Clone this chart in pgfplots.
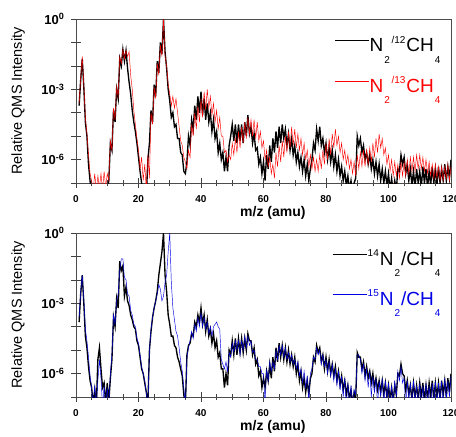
\documentclass[border=0pt]{standalone}
\usepackage{fontspec}
\setmainfont{Liberation Sans}
\usepackage{pgfplots}
\usepackage{pgfplotstable}
\pgfplotsset{compat=1.18}

% legend sub/superscripts, set low and high as in the original
\newcommand{\lsb}[1]{\kern1pt\raisebox{-0.6em}{\fontsize{10}{10}\selectfont #1}\kern1pt}
\newcommand{\lsp}[1]{\kern0.5pt\raisebox{0.47em}{\fontsize{10}{10}\selectfont #1}\kern1pt}

% log10 of the relative QMS intensity (m/z in amu)
% top panel, N2/12CH4
\pgfplotstableread[row sep=\\]{m lg\\
1 -3.7\\ 1.5 -2.6\\ 2 -1.7\\ 2.5 -2.9\\ 3 -4.4\\ 3.5 -5.0\\ 4 -6.2\\ 4.5 -6.9\\ 5 -7.6\\ 5.5 -7.3\\
6 -7.6\\ 6.5 -7.8\\ 7 -7.6\\ 7.5 -7.8\\ 8 -7.6\\ 8.5 -7.8\\ 9 -7.6\\ 9.5 -7.8\\ 10 -7.4\\ 10.5 -6.9\\
11 -5.3\\ 11.5 -5.6\\ 12 -3.9\\ 12.5 -4.4\\ 13 -3.0\\ 13.5 -3.4\\ 14 -1.7\\ 14.5 -2.0\\ 15 -1.3\\ 15.5 -1.8\\
16 -1.35\\ 16.5 -2.1\\ 17 -2.7\\ 17.5 -3.2\\ 18 -3.9\\ 18.5 -4.4\\ 19 -4.8\\ 19.5 -5.3\\ 20 -5.9\\ 20.5 -6.5\\
21 -7.0\\ 21.5 -7.6\\ 22 -7.6\\ 22.5 -7.6\\ 23 -6.0\\ 23.5 -5.3\\ 24 -3.9\\ 24.5 -4.4\\ 25 -2.8\\ 25.5 -3.3\\
26 -1.8\\ 26.5 -2.3\\ 27 -1.0\\ 27.5 -1.5\\ 28 0\\ 28.5 -1.4\\ 29 -2.1\\ 29.5 -3.0\\ 30 -3.5\\ 30.5 -4.2\\
31 -4.0\\ 31.5 -4.6\\ 32 -4.5\\ 32.5 -5.1\\ 33 -5.1\\ 33.5 -5.7\\ 34 -5.8\\ 34.5 -6.5\\ 35 -6.6\\ 35.5 -6.1\\
36 -5.0\\ 36.5 -5.4\\ 37 -4.3\\ 37.5 -4.7\\ 38 -3.7\\ 38.5 -4.3\\ 39 -3.3\\ 39.5 -4.0\\ 40 -3.1\\ 40.5 -4.1\\
41 -3.4\\ 41.5 -4.3\\ 42 -3.6\\ 42.5 -4.4\\ 43 -4.0\\ 43.5 -4.8\\ 44 -4.3\\ 44.5 -5.1\\ 45 -4.8\\ 45.5 -5.7\\
46 -5.3\\ 46.5 -6.0\\ 47 -5.7\\ 47.5 -6.5\\ 48 -5.9\\ 48.5 -6.5\\ 49 -5.4\\ 49.5 -5.0\\ 50 -4.5\\ 50.5 -5.2\\
51 -4.5\\ 51.5 -5.3\\ 52 -4.5\\ 52.5 -5.2\\ 53 -4.5\\ 53.5 -5.3\\ 54 -4.4\\ 54.5 -5.0\\ 55 -4.1\\ 55.5 -4.9\\
56 -4.6\\ 56.5 -5.3\\ 57 -4.9\\ 57.5 -5.6\\ 58 -5.5\\ 58.5 -6.2\\ 59 -5.9\\ 59.5 -6.6\\ 60 -6.1\\ 60.5 -6.9\\
61 -5.8\\ 61.5 -6.4\\ 62 -5.4\\ 62.5 -6.1\\ 63 -5.1\\ 63.5 -5.7\\ 64 -4.8\\ 64.5 -5.5\\ 65 -4.6\\ 65.5 -5.3\\
66 -4.5\\ 66.5 -5.1\\ 67 -4.7\\ 67.5 -5.4\\ 68 -4.9\\ 68.5 -5.6\\ 69 -5.1\\ 69.5 -5.8\\ 70 -5.4\\ 70.5 -6.1\\
71 -5.7\\ 71.5 -6.3\\ 72 -5.9\\ 72.5 -6.5\\ 73 -6.0\\ 73.5 -6.7\\ 74 -6.2\\ 74.5 -6.9\\ 75 -6.4\\ 75.5 -6.0\\
76 -5.3\\ 76.5 -5.6\\ 77 -4.7\\ 77.5 -5.2\\ 78 -4.6\\ 78.5 -5.4\\ 79 -5.1\\ 79.5 -5.7\\ 80 -5.3\\ 80.5 -6.0\\
81 -5.5\\ 81.5 -6.1\\ 82 -5.6\\ 82.5 -6.3\\ 83 -5.8\\ 83.5 -6.5\\ 84 -6.0\\ 84.5 -6.7\\ 85 -6.3\\ 85.5 -6.9\\
86 -6.5\\ 86.5 -7.1\\ 87 -6.7\\ 87.5 -7.3\\ 88 -6.9\\ 88.5 -7.5\\ 89 -7.0\\ 89.5 -6.8\\ 90 -5.0\\ 90.5 -5.4\\
91 -5.1\\ 91.5 -5.7\\ 92 -5.4\\ 92.5 -6.0\\ 93 -5.7\\ 93.5 -6.2\\ 94 -5.8\\ 94.5 -6.4\\ 95 -6.0\\ 95.5 -6.6\\
96 -6.1\\ 96.5 -6.7\\ 97 -6.2\\ 97.5 -6.9\\ 98 -6.4\\ 98.5 -7.0\\ 99 -6.5\\ 99.5 -7.1\\ 100 -6.6\\ 100.5 -7.3\\
101 -6.8\\ 101.5 -7.4\\ 102 -6.9\\ 102.5 -7.3\\ 103 -6.4\\ 103.5 -6.5\\ 104 -5.8\\ 104.5 -6.2\\ 105 -5.9\\ 105.5 -6.6\\
106 -6.2\\ 106.5 -6.9\\ 107 -6.4\\ 107.5 -7.1\\ 108 -6.5\\ 108.5 -7.2\\ 109 -6.4\\ 109.5 -7.0\\ 110 -6.5\\ 110.5 -7.2\\
111 -6.3\\ 111.5 -7.0\\ 112 -6.4\\ 112.5 -7.2\\ 113 -6.5\\ 113.5 -7.1\\ 114 -6.3\\ 114.5 -7.0\\ 115 -6.4\\ 115.5 -7.1\\
116 -6.3\\ 116.5 -7.0\\ 117 -6.4\\ 117.5 -6.9\\ 118 -6.2\\ 118.5 -6.9\\ 119 -6.3\\ 119.5 -6.8\\ 120 -6.0\\
}\twelveC

% top panel, N2/13CH4
\pgfplotstableread[row sep=\\]{m lg\\
1 -3.6\\ 1.5 -2.5\\ 2 -1.6\\ 2.5 -2.8\\ 3 -4.2\\ 3.5 -4.9\\ 4 -5.8\\ 4.5 -6.6\\ 5 -6.9\\ 5.5 -7.3\\
6 -6.6\\ 6.5 -7.3\\ 7 -6.7\\ 7.5 -7.2\\ 8 -6.6\\ 8.5 -7.3\\ 9 -6.5\\ 9.5 -7.2\\ 10 -6.6\\ 10.5 -6.9\\
11 -5.2\\ 11.5 -5.6\\ 12 -3.8\\ 12.5 -4.3\\ 13 -2.9\\ 13.5 -3.3\\ 14 -1.6\\ 14.5 -1.9\\ 15 -1.3\\ 15.5 -1.7\\
16 -1.35\\ 16.5 -1.6\\ 17 -1.4\\ 17.5 -2.4\\ 18 -3.0\\ 18.5 -3.9\\ 19 -4.5\\ 19.5 -5.1\\ 20 -5.6\\ 20.5 -6.4\\
21 -5.9\\ 21.5 -6.9\\ 22 -6.2\\ 22.5 -7.3\\ 23 -5.8\\ 23.5 -6.8\\ 24 -4.0\\ 24.5 -4.5\\ 25 -2.9\\ 25.5 -3.4\\
26 -1.9\\ 26.5 -2.4\\ 27 -1.1\\ 27.5 -1.6\\ 28 0\\ 28.5 -1.6\\ 29 -2.0\\ 29.5 -2.8\\ 30 -3.2\\ 30.5 -3.7\\
31 -3.3\\ 31.5 -3.8\\ 32 -3.4\\ 32.5 -4.0\\ 33 -4.6\\ 33.5 -5.2\\ 34 -5.4\\ 34.5 -5.9\\ 35 -6.1\\ 35.5 -6.4\\
36 -5.6\\ 36.5 -5.9\\ 37 -4.5\\ 37.5 -5.0\\ 38 -4.0\\ 38.5 -4.7\\ 39 -3.7\\ 39.5 -4.4\\ 40 -3.4\\ 40.5 -4.2\\
41 -3.1\\ 41.5 -3.9\\ 42 -3.0\\ 42.5 -3.8\\ 43 -3.3\\ 43.5 -4.1\\ 44 -3.6\\ 44.5 -4.4\\ 45 -3.9\\ 45.5 -4.7\\
46 -4.2\\ 46.5 -5.0\\ 47 -5.0\\ 47.5 -5.7\\ 48 -5.6\\ 48.5 -6.1\\ 49 -5.8\\ 49.5 -6.0\\ 50 -5.3\\ 50.5 -5.8\\
51 -5.1\\ 51.5 -5.7\\ 52 -4.8\\ 52.5 -5.5\\ 53 -4.6\\ 53.5 -5.3\\ 54 -4.4\\ 54.5 -5.1\\ 55 -4.2\\ 55.5 -4.9\\
56 -4.3\\ 56.5 -5.0\\ 57 -4.3\\ 57.5 -5.1\\ 58 -4.4\\ 58.5 -5.2\\ 59 -4.8\\ 59.5 -5.5\\ 60 -5.2\\ 60.5 -6.0\\
61 -5.6\\ 61.5 -6.3\\ 62 -5.9\\ 62.5 -6.6\\ 63 -6.2\\ 63.5 -6.8\\ 64 -5.7\\ 64.5 -6.3\\ 65 -5.4\\ 65.5 -6.1\\
66 -5.2\\ 66.5 -5.9\\ 67 -5.0\\ 67.5 -5.7\\ 68 -4.8\\ 68.5 -5.5\\ 69 -4.6\\ 69.5 -5.4\\ 70 -4.7\\ 70.5 -5.5\\
71 -4.9\\ 71.5 -5.6\\ 72 -5.1\\ 72.5 -5.8\\ 73 -5.3\\ 73.5 -6.0\\ 74 -5.6\\ 74.5 -6.3\\ 75 -5.8\\ 75.5 -6.4\\
76 -5.9\\ 76.5 -6.5\\ 77 -6.0\\ 77.5 -6.5\\ 78 -5.8\\ 78.5 -6.4\\ 79 -5.6\\ 79.5 -6.2\\ 80 -5.3\\ 80.5 -6.0\\
81 -5.1\\ 81.5 -5.8\\ 82 -4.9\\ 82.5 -5.5\\ 83 -4.7\\ 83.5 -5.4\\ 84 -5.0\\ 84.5 -5.7\\ 85 -5.3\\ 85.5 -6.0\\
86 -5.6\\ 86.5 -6.2\\ 87 -5.8\\ 87.5 -6.4\\ 88 -6.0\\ 88.5 -6.6\\ 89 -6.1\\ 89.5 -6.7\\ 90 -5.8\\ 90.5 -6.4\\
91 -5.7\\ 91.5 -6.3\\ 92 -5.6\\ 92.5 -6.3\\ 93 -5.6\\ 93.5 -6.2\\ 94 -5.5\\ 94.5 -6.1\\ 95 -5.3\\ 95.5 -5.9\\
96 -5.1\\ 96.5 -5.7\\ 97 -4.9\\ 97.5 -5.5\\ 98 -5.1\\ 98.5 -5.8\\ 99 -5.5\\ 99.5 -6.2\\ 100 -5.8\\ 100.5 -6.5\\
101 -6.0\\ 101.5 -6.7\\ 102 -6.1\\ 102.5 -6.7\\ 103 -6.2\\ 103.5 -6.8\\ 104 -6.1\\ 104.5 -6.7\\ 105 -6.1\\ 105.5 -6.7\\
106 -6.0\\ 106.5 -6.6\\ 107 -5.9\\ 107.5 -6.5\\ 108 -5.9\\ 108.5 -6.5\\ 109 -5.8\\ 109.5 -6.4\\ 110 -5.8\\ 110.5 -6.4\\
111 -5.9\\ 111.5 -6.5\\ 112 -6.0\\ 112.5 -6.6\\ 113 -6.1\\ 113.5 -6.7\\ 114 -6.2\\ 114.5 -6.8\\ 115 -6.2\\ 115.5 -6.8\\
116 -6.3\\ 116.5 -6.9\\ 117 -6.3\\ 117.5 -6.9\\ 118 -6.3\\ 118.5 -6.8\\ 119 -6.2\\ 119.5 -6.9\\ 120 -6.3\\
}\thirteenC

% bottom panel, 14N2/CH4
\pgfplotstableread[row sep=\\]{m lg\\
1 -3.8\\ 1.5 -2.6\\ 2 -1.8\\ 2.5 -3.0\\ 3 -4.4\\ 3.5 -4.9\\ 4 -5.7\\ 4.5 -6.3\\ 5 -6.6\\ 5.5 -7.3\\
6 -6.7\\ 6.5 -7.4\\ 7 -5.4\\ 7.5 -4.9\\ 8 -5.8\\ 8.5 -6.6\\ 9 -6.4\\ 9.5 -7.3\\ 10 -6.4\\ 10.5 -7.2\\
11 -6.2\\ 11.5 -5.4\\ 12 -3.6\\ 12.5 -4.0\\ 13 -2.8\\ 13.5 -3.2\\ 14 -1.2\\ 14.5 -1.6\\ 15 -1.4\\ 15.5 -2.7\\
16 -2.3\\ 16.5 -2.9\\ 17 -3.1\\ 17.5 -3.5\\ 18 -3.7\\ 18.5 -4.0\\ 19 -4.1\\ 19.5 -4.6\\ 20 -4.8\\ 20.5 -5.3\\
21 -5.8\\ 21.5 -6.0\\ 22 -6.4\\ 22.5 -6.8\\ 23 -7.3\\ 23.5 -5.0\\ 24 -4.2\\ 24.5 -3.6\\ 25 -3.2\\ 25.5 -2.9\\
26 -2.5\\ 26.5 -1.8\\ 27 -1.3\\ 27.5 -0.8\\ 28 0\\ 28.5 -1.8\\ 29 -2.5\\ 29.5 -3.5\\ 30 -3.9\\ 30.5 -4.4\\
31 -4.4\\ 31.5 -4.8\\ 32 -4.9\\ 32.5 -5.3\\ 33 -5.5\\ 33.5 -5.8\\ 34 -6.1\\ 34.5 -6.9\\ 35 -7.4\\ 35.5 -5.2\\
36 -4.8\\ 36.5 -4.7\\ 37 -4.3\\ 37.5 -4.4\\ 38 -3.8\\ 38.5 -4.0\\ 39 -3.5\\ 39.5 -3.8\\ 40 -3.2\\ 40.5 -3.9\\
41 -3.5\\ 41.5 -4.2\\ 42 -3.7\\ 42.5 -4.4\\ 43 -4.1\\ 43.5 -4.7\\ 44 -4.3\\ 44.5 -4.9\\ 45 -4.6\\ 45.5 -5.3\\
46 -5.1\\ 46.5 -5.8\\ 47 -5.8\\ 47.5 -6.6\\ 48 -6.0\\ 48.5 -6.5\\ 49 -5.0\\ 49.5 -5.2\\ 50 -4.6\\ 50.5 -5.2\\
51 -4.5\\ 51.5 -5.2\\ 52 -4.5\\ 52.5 -5.1\\ 53 -4.5\\ 53.5 -5.1\\ 54 -4.5\\ 54.5 -5.0\\ 55 -4.3\\ 55.5 -4.6\\
56 -4.6\\ 56.5 -5.2\\ 57 -4.9\\ 57.5 -5.6\\ 58 -5.4\\ 58.5 -6.1\\ 59 -5.9\\ 59.5 -6.6\\ 60 -6.2\\ 60.5 -6.6\\
61 -5.9\\ 61.5 -6.3\\ 62 -5.6\\ 62.5 -6.2\\ 63 -5.3\\ 63.5 -5.9\\ 64 -4.9\\ 64.5 -5.5\\ 65 -4.7\\ 65.5 -5.3\\
66 -4.8\\ 66.5 -5.4\\ 67 -4.9\\ 67.5 -5.5\\ 68 -5.0\\ 68.5 -5.6\\ 69 -5.2\\ 69.5 -5.7\\ 70 -5.3\\ 70.5 -6.0\\
71 -5.6\\ 71.5 -6.3\\ 72 -5.9\\ 72.5 -6.6\\ 73 -6.2\\ 73.5 -6.8\\ 74 -6.3\\ 74.5 -6.9\\ 75 -6.2\\ 75.5 -6.0\\
76 -5.3\\ 76.5 -5.5\\ 77 -4.8\\ 77.5 -5.1\\ 78 -4.9\\ 78.5 -5.5\\ 79 -5.2\\ 79.5 -5.8\\ 80 -5.3\\ 80.5 -5.9\\
81 -5.4\\ 81.5 -6.0\\ 82 -5.6\\ 82.5 -6.1\\ 83 -5.7\\ 83.5 -6.3\\ 84 -5.9\\ 84.5 -6.5\\ 85 -6.1\\ 85.5 -6.7\\
86 -6.3\\ 86.5 -6.9\\ 87 -6.5\\ 87.5 -7.1\\ 88 -6.7\\ 88.5 -7.3\\ 89 -6.8\\ 89.5 -7.1\\ 90 -5.1\\ 90.5 -5.3\\
91 -5.3\\ 91.5 -5.8\\ 92 -5.5\\ 92.5 -6.1\\ 93 -5.7\\ 93.5 -6.2\\ 94 -5.9\\ 94.5 -6.4\\ 95 -6.0\\ 95.5 -6.6\\
96 -6.2\\ 96.5 -6.7\\ 97 -6.3\\ 97.5 -6.8\\ 98 -6.3\\ 98.5 -6.9\\ 99 -6.4\\ 99.5 -7.0\\ 100 -6.5\\ 100.5 -7.1\\
101 -6.6\\ 101.5 -7.2\\ 102 -6.5\\ 102.5 -6.9\\ 103 -6.0\\ 103.5 -6.1\\ 104 -5.6\\ 104.5 -6.0\\ 105 -6.1\\ 105.5 -6.7\\
106 -6.3\\ 106.5 -6.9\\ 107 -6.5\\ 107.5 -7.1\\ 108 -6.4\\ 108.5 -7.0\\ 109 -6.5\\ 109.5 -7.1\\ 110 -6.4\\ 110.5 -7.0\\
111 -6.4\\ 111.5 -7.2\\ 112 -6.5\\ 112.5 -7.1\\ 113 -6.4\\ 113.5 -7.0\\ 114 -6.3\\ 114.5 -7.1\\ 115 -6.4\\ 115.5 -7.0\\
116 -6.4\\ 116.5 -7.1\\ 117 -6.3\\ 117.5 -6.9\\ 118 -6.3\\ 118.5 -7.0\\ 119 -6.2\\ 119.5 -6.8\\ 120 -6.0\\
}\fourteenN

% bottom panel, 15N2/CH4
\pgfplotstableread[row sep=\\]{m lg\\
1 -3.6\\ 1.5 -2.5\\ 2 -1.8\\ 2.5 -2.8\\ 3 -4.1\\ 3.5 -4.6\\ 4 -5.3\\ 4.5 -6.1\\ 5 -6.6\\ 5.5 -7.4\\
6 -6.5\\ 6.5 -7.4\\ 7 -6.3\\ 7.5 -5.4\\ 8 -6.2\\ 8.5 -7.4\\ 9 -6.5\\ 9.5 -7.4\\ 10 -6.6\\ 10.5 -7.4\\
11 -6.0\\ 11.5 -5.2\\ 12 -3.5\\ 12.5 -3.9\\ 13 -2.9\\ 13.5 -2.6\\ 14 -1.6\\ 14.5 -1.1\\ 15 -1.1\\ 15.5 -1.9\\
16 -2.0\\ 16.5 -2.6\\ 17 -2.7\\ 17.5 -3.3\\ 18 -3.5\\ 18.5 -3.9\\ 19 -4.0\\ 19.5 -4.5\\ 20 -4.7\\ 20.5 -5.2\\
21 -5.7\\ 21.5 -6.0\\ 22 -6.3\\ 22.5 -6.8\\ 23 -7.4\\ 23.5 -5.0\\ 24 -4.1\\ 24.5 -3.6\\ 25 -3.2\\ 25.5 -2.9\\
26 -2.6\\ 26.5 -2.2\\ 27 -2.4\\ 27.5 -2.9\\ 28 -2.7\\ 28.5 -2.1\\ 29 -1.8\\ 29.5 -0.8\\ 30 0\\ 30.5 -2.1\\
31 -3.2\\ 31.5 -3.7\\ 32 -4.2\\ 32.5 -4.4\\ 33 -4.9\\ 33.5 -5.5\\ 34 -5.9\\ 34.5 -6.6\\ 35 -7.4\\ 35.5 -5.3\\
36 -4.9\\ 36.5 -4.6\\ 37 -4.2\\ 37.5 -4.5\\ 38 -3.9\\ 38.5 -4.2\\ 39 -3.6\\ 39.5 -4.0\\ 40 -3.4\\ 40.5 -4.0\\
41 -3.6\\ 41.5 -4.1\\ 42 -3.8\\ 42.5 -4.3\\ 43 -4.0\\ 43.5 -4.4\\ 44 -4.0\\ 44.5 -3.9\\ 45 -3.8\\ 45.5 -4.0\\
46 -4.1\\ 46.5 -5.4\\ 47 -5.6\\ 47.5 -5.8\\ 48 -5.5\\ 48.5 -5.9\\ 49 -5.1\\ 49.5 -5.3\\ 50 -4.7\\ 50.5 -5.1\\
51 -4.6\\ 51.5 -5.0\\ 52 -4.6\\ 52.5 -5.2\\ 53 -4.6\\ 53.5 -5.0\\ 54 -4.4\\ 54.5 -4.9\\ 55 -4.4\\ 55.5 -4.8\\
56 -4.6\\ 56.5 -5.1\\ 57 -5.0\\ 57.5 -5.4\\ 58 -5.4\\ 58.5 -5.7\\ 59 -5.7\\ 59.5 -6.0\\ 60 -6.0\\ 60.5 -7.4\\
61 -5.8\\ 61.5 -6.3\\ 62 -5.5\\ 62.5 -5.9\\ 63 -5.5\\ 63.5 -5.8\\ 64 -5.0\\ 64.5 -5.4\\ 65 -4.8\\ 65.5 -5.2\\
66 -4.8\\ 66.5 -5.3\\ 67 -4.9\\ 67.5 -5.4\\ 68 -5.1\\ 68.5 -5.5\\ 69 -5.2\\ 69.5 -5.6\\ 70 -5.4\\ 70.5 -5.8\\
71 -5.5\\ 71.5 -6.1\\ 72 -5.8\\ 72.5 -6.4\\ 73 -5.9\\ 73.5 -6.6\\ 74 -6.1\\ 74.5 -7.2\\ 75 -6.0\\ 75.5 -5.8\\
76 -5.3\\ 76.5 -5.4\\ 77 -4.9\\ 77.5 -5.2\\ 78 -5.0\\ 78.5 -5.6\\ 79 -5.2\\ 79.5 -5.7\\ 80 -5.4\\ 80.5 -6.0\\
81 -5.5\\ 81.5 -6.1\\ 82 -5.6\\ 82.5 -6.3\\ 83 -5.8\\ 83.5 -6.5\\ 84 -5.9\\ 84.5 -6.7\\ 85 -6.1\\ 85.5 -7.0\\
86 -6.2\\ 86.5 -7.4\\ 87 -6.4\\ 87.5 -7.3\\ 88 -6.5\\ 88.5 -7.4\\ 89 -6.7\\ 89.5 -6.9\\ 90 -5.2\\ 90.5 -5.2\\
91 -5.4\\ 91.5 -6.0\\ 92 -5.6\\ 92.5 -6.3\\ 93 -5.8\\ 93.5 -6.6\\ 94 -5.9\\ 94.5 -7.0\\ 95 -6.1\\ 95.5 -6.8\\
96 -6.2\\ 96.5 -7.4\\ 97 -6.3\\ 97.5 -7.0\\ 98 -6.2\\ 98.5 -7.4\\ 99 -6.3\\ 99.5 -7.1\\ 100 -6.4\\ 100.5 -7.4\\
101 -6.5\\ 101.5 -7.3\\ 102 -6.3\\ 102.5 -7.0\\ 103 -5.9\\ 103.5 -6.3\\ 104 -5.7\\ 104.5 -6.4\\ 105 -6.2\\ 105.5 -7.4\\
106 -6.3\\ 106.5 -7.1\\ 107 -6.4\\ 107.5 -7.4\\ 108 -6.3\\ 108.5 -7.2\\ 109 -6.5\\ 109.5 -7.4\\ 110 -6.4\\ 110.5 -7.3\\
111 -6.5\\ 111.5 -7.4\\ 112 -6.4\\ 112.5 -7.2\\ 113 -6.5\\ 113.5 -7.4\\ 114 -6.4\\ 114.5 -7.3\\ 115 -6.3\\ 115.5 -7.4\\
116 -6.4\\ 116.5 -7.2\\ 117 -6.3\\ 117.5 -7.4\\ 118 -6.2\\ 118.5 -7.1\\ 119 -6.3\\ 119.5 -7.0\\ 120 -6.1\\
}\fifteenN

\pgfplotsset{
  qms/.style={
    scale only axis, width=375pt, height=164pt,
    xmin=0, xmax=120, ymin=1e-7, ymax=1,
    xtick={0,20,...,120}, minor x tick num=3,
    ytick={1e-7,1e-6,1e-5,1e-4,1e-3,1e-2,1e-1,1},
    yminorticks=false,
    yticklabels={,\textbf{10}\textsuperscript{\textbf{-6}},,,\textbf{10}\textsuperscript{\textbf{-3}},,,\textbf{10}\textsuperscript{\textbf{0}}},
    tick pos=left, tick align=center,
    major tick length=10pt, minor tick length=7pt,
    every tick/.style={black!75, line width=0.5pt},
    axis line style={black!70, line width=0.6pt},
    /pgf/number format/assume math mode=true,
    xticklabel style={font=\fontsize{10}{10}\selectfont\bfseries, yshift=-4pt},
    yticklabel style={font=\fontsize{13}{13}\selectfont\bfseries, xshift=-3pt},
    ylabel={Relative QMS Intensity},
    ylabel style={font=\fontsize{14.5}{15}\selectfont, at={(axis description cs:-0.136,0.5)}, anchor=south, inner sep=0pt},
    xlabel={m/z (amu)},
    xlabel style={font=\fontsize{14}{14}\selectfont\bfseries, at={(axis description cs:0.525,0)}, anchor=north, inner sep=0pt, yshift=-23pt},
    legend style={draw=none, fill=none, at={(rel axis cs:0.975,0.905)}, anchor=north east,
      font=\fontsize{19}{19}\selectfont, row sep=20.5pt, inner sep=0pt,
      nodes={inner xsep=0pt, inner ysep=1pt},
      /tikz/every even column/.append style={column sep=0pt}},
    legend cell align=left,
    legend image code/.code={\draw[#1] (-4pt,4pt) -- (30pt,4pt);},
    clip=true,
  },
}

\begin{document}
\begin{tikzpicture}
\begin{semilogyaxis}[qms, at={(0,214pt)}, anchor=south west]
  \addplot[black, line width=1.35pt] table[x=m, y expr=10^\thisrow{lg}] {\twelveC};
  \addlegendentry{N\lsb{2}\lsp{/12}CH\lsb{4}}
  \addplot[red, line width=0.45pt] table[x=m, y expr=10^\thisrow{lg}] {\thirteenC};
  \addlegendentry{\textcolor{red}{N\lsb{2}\lsp{/13}CH\lsb{4}}}
\end{semilogyaxis}
\begin{semilogyaxis}[qms, at={(0,0)}, anchor=south west]
  \addplot[black, line width=1.35pt] table[x=m, y expr=10^\thisrow{lg}] {\fourteenN};
  \addlegendentry{\lsp{14}N\lsb{2}/CH\lsb{4}}
  \addplot[blue!90!black, line width=0.45pt] table[x=m, y expr=10^\thisrow{lg}] {\fifteenN};
  \addlegendentry{\textcolor{blue!90!black}{\lsp{15}N\lsb{2}/CH\lsb{4}}}
\end{semilogyaxis}
\pgfresetboundingbox
\path[use as bounding box] (-76pt,-40pt) rectangle (380pt,397pt);
\end{tikzpicture}
\end{document}
